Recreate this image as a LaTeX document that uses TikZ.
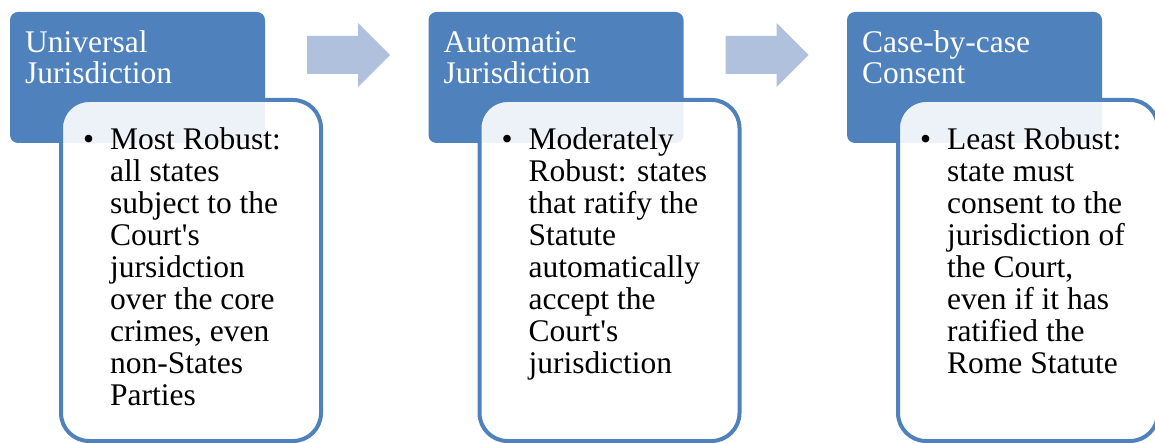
\documentclass[tikz,border=0pt]{standalone}
\usepackage{fontspec}
\setmainfont{Liberation Serif}
\definecolor{hdr}{RGB}{79,129,189}
\definecolor{arw}{RGB}{176,193,222}
\newcommand{\bul}{\leavevmode\llap{\textbullet\hspace{16pt}}}
\newcommand{\apo}{\textquotesingle}
\begin{document}
\begin{tikzpicture}[x=1pt,y=-1pt,
  hdrbox/.style={fill=hdr, rounded corners=8pt, minimum width=255pt, minimum height=131pt, anchor=north west, inner sep=0pt, outer sep=0pt},
  bodybox/.style={draw=hdr, line width=4pt, fill=white, fill opacity=0.9, rounded corners=28pt, minimum width=260pt, minimum height=341pt, anchor=north west, inner sep=0pt, outer sep=0pt},
  hdrtext/.style={anchor=base west, inner sep=0pt, text=white, font=\fontsize{31.5}{30.7}\selectfont},
  bodytext/.style={anchor=base west, inner sep=0pt, font=\fontsize{31.5}{32}\selectfont},
  blockarrow/.style={fill=arw}]
\useasboundingbox (0,0) rectangle (1155,443);
\clip (0,0) rectangle (1155,443);
% column 1
\node[hdrbox] (h1) at (10,12) {};
\node[bodybox] (b1) at (61,100) {};
\node[hdrtext] (t1) at (25,53) {\parbox[t]{240pt}{\raggedright Universal\\Jurisdiction}};
\node[bodytext] (x1) at (110,150) {\parbox[t]{215pt}{\raggedright\bul Most Robust:\\all states\\subject to the\\Court\apo s\\jursidction\\over the core\\crimes, even\\non-States\\Parties}};
% column 2
\node[hdrbox] (h2) at (428.5,12) {};
\node[bodybox] (b2) at (479.5,100) {};
\node[hdrtext] (t2) at (443.5,53) {\parbox[t]{240pt}{\raggedright Automatic\\Jurisdiction}};
\node[bodytext] (x2) at (528.5,150) {\parbox[t]{215pt}{\raggedright\bul Moderately\\Robust: states\\that ratify the\\Statute\\automatically\\accept the\\Court\apo s\\jurisdiction}};
% column 3
\node[hdrbox] (h3) at (847,12) {};
\node[bodybox] (b3) at (898,100) {};
\node[hdrtext] (t3) at (862,53) {\parbox[t]{240pt}{\raggedright Case-by-case\\Consent}};
\node[bodytext] (x3) at (947,150) {\parbox[t]{215pt}{\raggedright\bul Least Robust:\\state must\\consent to the\\jurisdiction of\\the Court,\\even if it has\\ratified the\\Rome Statute}};
% arrows
\fill[blockarrow] (307,36) -- (358,36) -- (358,23) -- (390,55) -- (358,87) -- (358,74) -- (307,74) -- cycle;
\fill[blockarrow] (725.5,36) -- (776.5,36) -- (776.5,23) -- (808.5,55) -- (776.5,87) -- (776.5,74) -- (725.5,74) -- cycle;
\end{tikzpicture}
\end{document}
